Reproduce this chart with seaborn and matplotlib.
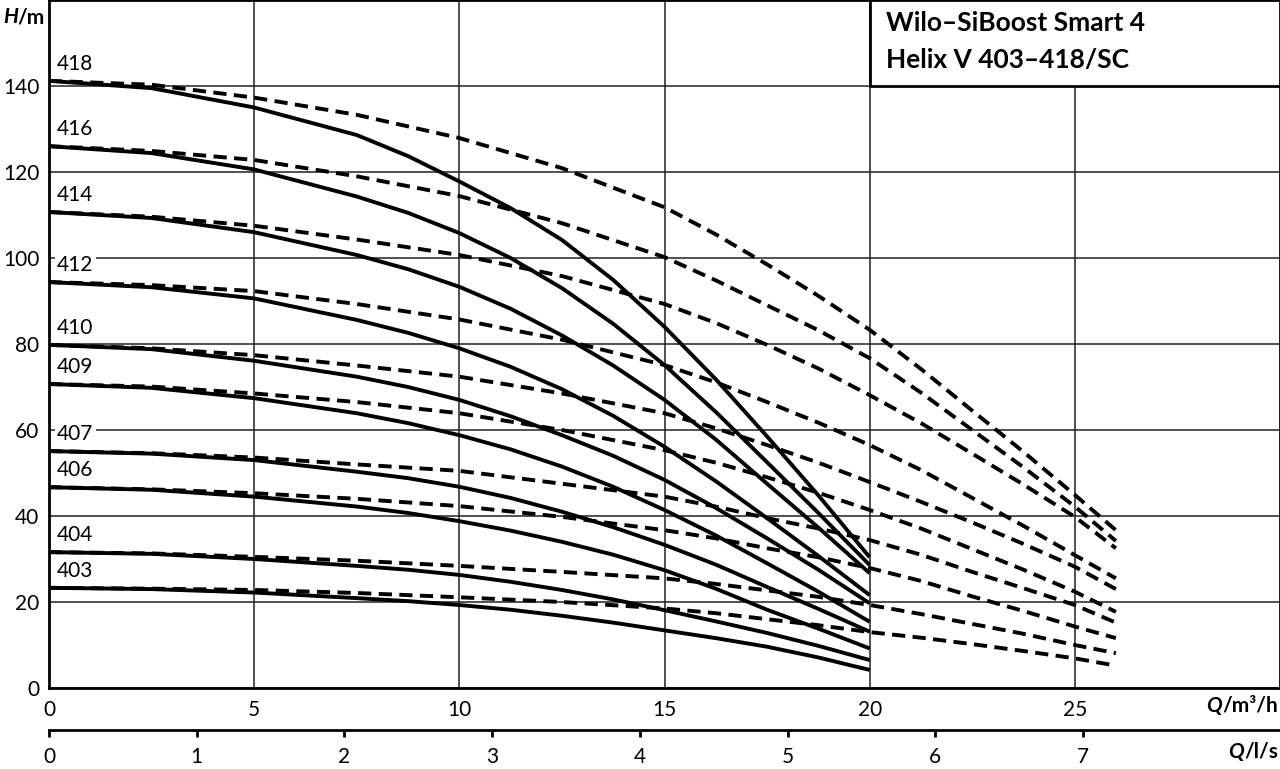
import matplotlib
matplotlib.use("Agg")
import matplotlib.pyplot as plt
import pandas as pd
import seaborn as sns
from matplotlib.patches import Rectangle

# Kennlinien Wilo-SiBoost Smart 4 Helix V 403-418/SC
stages = ["403", "404", "406", "407", "409", "410", "412", "414", "416", "418"]

# Durchfluss Q in m³/h
q_solid = [0, 2.5, 5, 7.5, 8.75, 10, 11.25, 12.5, 13.75, 15, 16.25, 17.5, 18.75, 20]
q_dashed = [0, 2.5, 5, 7.5, 10, 12.5, 15, 16.25, 17.5, 18.75, 20, 21.25, 22.5, 23.75, 25, 26]

# Förderhöhe H in m (durchgezogen)
solid_403 = [23.3, 23.0, 22.2, 20.9, 20.2, 19.3, 18.2, 16.8, 15.2, 13.4, 11.6, 9.6, 7.1, 4.2]
solid_404 = [31.6, 31.2, 30.0, 28.4, 27.5, 26.3, 24.7, 22.8, 20.6, 18.1, 15.5, 12.8, 9.8, 6.5]
solid_406 = [46.7, 46.1, 44.5, 42.2, 40.7, 38.8, 36.6, 34.0, 31.0, 27.4, 23.1, 18.2, 13.8, 9.2]
solid_407 = [55.1, 54.5, 53.0, 50.3, 48.8, 46.8, 44.2, 41.0, 37.4, 33.3, 28.7, 23.5, 18.4, 13.1]
solid_409 = [70.7, 69.8, 67.4, 63.9, 61.6, 58.8, 55.5, 51.5, 46.8, 41.4, 35.5, 29.0, 22.4, 15.4]
solid_410 = [79.8, 78.8, 76.1, 72.4, 70.0, 67.0, 63.2, 58.8, 54.0, 48.4, 41.9, 34.8, 27.5, 19.7]
solid_412 = [94.4, 93.2, 90.6, 85.6, 82.6, 79.0, 74.7, 69.5, 63.3, 56.1, 48.1, 39.5, 30.7, 21.6]
solid_414 = [110.7, 109.3, 106.0, 100.7, 97.4, 93.3, 88.2, 82.0, 75.0, 67.0, 57.8, 47.5, 37.3, 26.7]
solid_416 = [126.0, 124.4, 120.6, 114.3, 110.5, 105.8, 100.0, 93.0, 84.7, 75.1, 64.2, 52.5, 40.7, 28.6]
solid_418 = [141.2, 139.5, 135.0, 128.6, 123.7, 117.8, 111.6, 104.2, 94.9, 84.0, 71.8, 58.5, 44.8, 30.4]

# Förderhöhe H in m (gestrichelt)
dashed_403 = [23.3, 23.1, 22.8, 22.1, 21.1, 20.0, 18.5, 17.4, 16.0, 14.6, 13.0, 11.7, 10.2, 8.6, 6.9, 5.2]
dashed_404 = [31.6, 31.3, 30.5, 29.6, 28.4, 27.0, 25.5, 24.2, 22.7, 21.2, 19.3, 17.2, 14.9, 12.6, 10.0, 8.1]
dashed_406 = [46.7, 46.2, 45.3, 44.0, 42.3, 39.8, 36.7, 34.8, 32.5, 30.4, 27.9, 24.9, 21.3, 17.9, 14.3, 11.6]
dashed_407 = [55.1, 54.6, 53.6, 52.0, 50.5, 47.5, 44.5, 42.2, 39.5, 37.1, 34.4, 31.0, 27.0, 23.2, 19.3, 15.2]
dashed_409 = [70.7, 70.1, 68.5, 66.5, 63.9, 60.0, 55.3, 52.4, 49.0, 45.4, 41.4, 37.1, 32.3, 27.5, 22.4, 17.7]
dashed_410 = [79.8, 79.0, 77.4, 75.0, 72.4, 68.5, 63.9, 60.4, 56.5, 52.4, 47.9, 43.3, 38.5, 33.5, 28.2, 23.0]
dashed_412 = [94.4, 93.7, 92.3, 89.3, 85.7, 81.0, 75.1, 71.1, 66.5, 61.7, 56.5, 50.7, 44.2, 37.7, 30.9, 25.5]
dashed_414 = [110.7, 109.6, 107.5, 104.3, 100.7, 95.8, 89.3, 84.9, 79.8, 74.3, 68.1, 61.6, 54.5, 47.3, 39.8, 32.5]
dashed_416 = [126.0, 124.9, 122.8, 119.0, 114.4, 108.1, 100.2, 94.8, 89.0, 83.2, 76.7, 68.7, 60.0, 51.3, 42.2, 34.2]
dashed_418 = [141.2, 140.3, 137.3, 133.3, 127.9, 120.9, 111.8, 105.5, 98.5, 91.2, 83.3, 74.2, 64.5, 54.9, 44.9, 36.7]

solid = [solid_403, solid_404, solid_406, solid_407, solid_409,
         solid_410, solid_412, solid_414, solid_416, solid_418]
dashed = [dashed_403, dashed_404, dashed_406, dashed_407, dashed_409,
          dashed_410, dashed_412, dashed_414, dashed_416, dashed_418]

x_ticks = [0, 5, 10, 15, 20, 25]
y_ticks = [0, 20, 40, 60, 80, 100, 120, 140]
ls_ticks = [0, 1, 2, 3, 4, 5, 6, 7]
title_lines = ["Wilo–SiBoost Smart 4", "Helix V 403–418/SC"]


def to_long(q, curves):
    rows = []
    for st, h in zip(stages, curves):
        for qq, hh in zip(q, h):
            rows.append({"stage": st, "Q": qq, "H": hh})
    return pd.DataFrame(rows)


df_solid = to_long(q_solid, solid)
df_dashed = to_long(q_dashed, dashed)

sns.set_theme(style="white")
plt.rcParams["font.family"] = ["Lato", "DejaVu Sans"]
plt.rcParams["text.color"] = "black"

W, H = 1280, 769
fig = plt.figure(figsize=(W / 100, H / 100), dpi=100)
ax = fig.add_axes([49 / W, 1 - 688 / H, 1231 / W, 688 / H])

ax.set_xlim(0, 30)
ax.set_ylim(0, 160)
ax.set_xticks(x_ticks)
ax.set_yticks(y_ticks)
ax.grid(True, color="#222222", lw=1.1)
ax.set_axisbelow(True)
ax.tick_params(axis="both", length=0, labelsize=15, colors="black")
ax.tick_params(axis="x", pad=9)
ax.tick_params(axis="y", pad=7)
for sp in ax.spines.values():
    sp.set_visible(True)
    sp.set_color("black")
    sp.set_linewidth(2)

sns.lineplot(data=df_dashed, x="Q", y="H", units="stage", estimator=None,
             color="black", lw=2.8, linestyle=(0, (3.4, 1.9)),
             dash_capstyle="butt", sort=False, legend=False, ax=ax, zorder=4)
sns.lineplot(data=df_solid, x="Q", y="H", units="stage", estimator=None,
             color="black", lw=2.8, solid_capstyle="butt", solid_joinstyle="round",
             sort=False, legend=False, ax=ax, zorder=4)
ax.set_xlabel("")
ax.set_ylabel("")

# Stufenbeschriftung
for st, h in zip(stages, solid):
    ax.text(0.2, h[0] + 1.6, st, fontsize=15, ha="left", va="bottom", zorder=3,
            bbox=dict(facecolor="white", edgecolor="none", pad=1.5))

# Titelkasten
ax.add_patch(Rectangle((20, 140), 10, 20, facecolor="white", edgecolor="black",
                       lw=2, zorder=5, clip_on=False))
ax.text(20.4, 154.6, title_lines[0], fontsize=19, fontweight="bold",
        va="center", ha="left", zorder=6)
ax.text(20.4, 146.1, title_lines[1], fontsize=19, fontweight="bold",
        va="center", ha="left", zorder=6)

# zweite Achse l/s
sec = ax.secondary_xaxis(-42 / 688, functions=(lambda q: q / 3.6, lambda v: v * 3.6))
sec.set_xticks(ls_ticks)
sec.tick_params(axis="x", direction="out", length=5, width=2, labelsize=15, pad=7,
                colors="black")
sec.spines["bottom"].set_linewidth(2)
sec.spines["bottom"].set_color("black")

# Achsentitel
fig.text(3 / W, 1 - 17 / H, "H", fontsize=15, fontweight="bold", style="italic",
         va="center", ha="left")
fig.text(17 / W, 1 - 17 / H, "/m", fontsize=15, fontweight="bold", va="center", ha="left")

fig.canvas.draw()
r = fig.canvas.get_renderer()
for ypix, unit in [(706, "/m³/h"), (752, "/l/s")]:
    t = fig.text(1278 / W, 1 - ypix / H, unit, fontsize=15, fontweight="bold",
                 va="center", ha="right")
    bb = t.get_window_extent(r)
    fig.text(bb.x0 / W, 1 - ypix / H, "Q", fontsize=15, fontweight="bold",
             style="italic", va="center", ha="right")

fig.savefig("out.png", dpi=100)
